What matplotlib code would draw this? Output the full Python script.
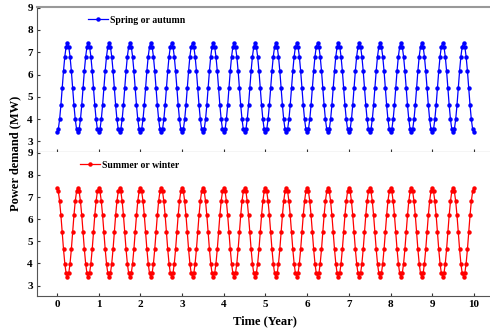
import matplotlib as mpl
mpl.use('Agg')
import matplotlib.pyplot as plt
import numpy as np

plt.rcParams['font.family'] = ['Liberation Serif', 'DejaVu Serif']
plt.rcParams['font.weight'] = 'bold'

# one half-year cycle of values (16 samples)
spring_cycle = [3.40, 3.55, 3.99, 4.63, 5.40, 6.17, 6.81, 7.25,
                7.40, 7.25, 6.81, 6.17, 5.40, 4.63, 3.99, 3.55]
summer_cycle = [7.40, 7.25, 6.81, 6.17, 5.40, 4.63, 3.99, 3.55,
                3.40, 3.55, 3.99, 4.63, 5.40, 6.17, 6.81, 7.25]
n_cycles = 20

spring = list(np.tile(spring_cycle, n_cycles)) + [3.40]
summer = list(np.tile(summer_cycle, n_cycles)) + [7.40]
time = np.linspace(0, 10, len(spring))

xticks = list(range(0, 11))
yticks = [3, 4, 5, 6, 7, 8, 9]

fig = plt.figure(figsize=(4.9, 3.35), dpi=100)
ax1 = fig.add_axes([0.0755, 0.546, 0.93, 0.433])
ax2 = fig.add_axes([0.0755, 0.116, 0.93, 0.430])

ax1.plot(time, spring, color='#0000ff', lw=0.9, marker='o', ms=2.2,
         label='Spring or autumn')
ax2.plot(time, summer, color='#ff0000', lw=0.9, marker='o', ms=2.2,
         label='Summer or winter')

for ax in (ax1, ax2):
    ax.set_xlim(-0.48, 10.45)
    ax.set_ylim(2.52, 9.03)
    ax.set_xticks(xticks)
    ax.set_yticks(yticks)
    ax.tick_params(direction='in', length=2.5, width=0.8, labelsize=8, pad=3,
                   color='#333333')
    ax.spines['right'].set_visible(False)
    ax.spines['left'].set_color('#555555')
    ax.spines['bottom'].set_color('#555555')
    for lab in ax.get_xticklabels() + ax.get_yticklabels():
        lab.set_fontweight('bold')

ax1.spines['top'].set_color('#999999')
ax1.spines['top'].set_linewidth(1.5)
ax2.spines['top'].set_visible(False)
ax1.tick_params(labelbottom=False)

ax1.legend(loc='upper left', bbox_to_anchor=(0.093, 1.0), frameon=False,
           prop={'size': 7, 'weight': 'bold'}, handlelength=2.0,
           handletextpad=0.2, numpoints=1)
ax2.legend(loc='upper left', bbox_to_anchor=(0.076, 1.0), frameon=False,
           prop={'size': 7, 'weight': 'bold'}, handlelength=2.0,
           handletextpad=0.2, numpoints=1)

ax2.set_xlabel('Time (Year)', fontsize=9, fontweight='bold', labelpad=4)
fig.text(0.031, 0.543, 'Power demand (MW)', rotation=90, fontsize=9,
         fontweight='bold', ha='center', va='center')

fig.savefig('out.png', dpi=100)
